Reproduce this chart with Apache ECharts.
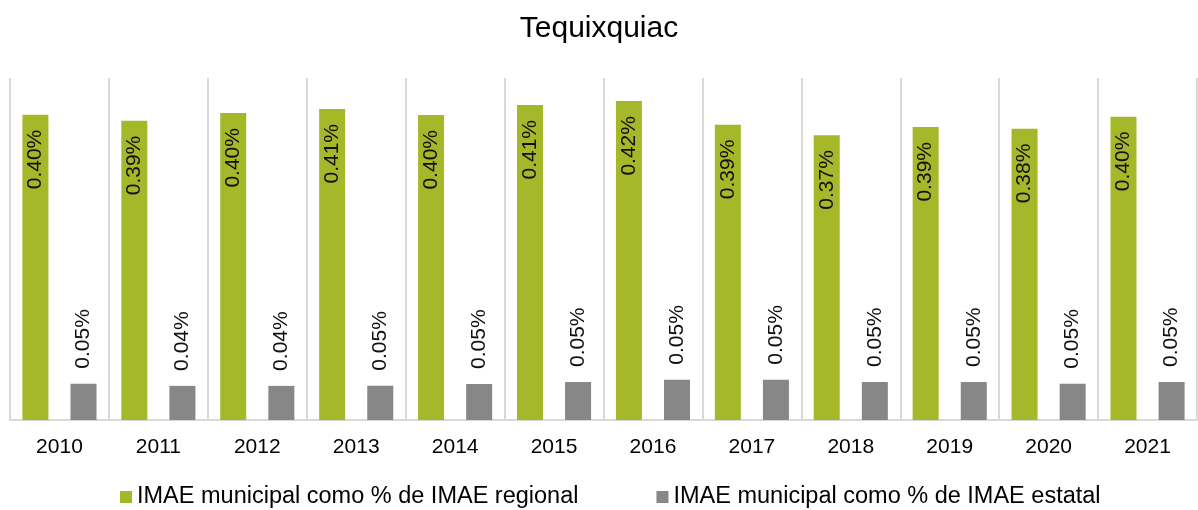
<!DOCTYPE html>
<html>
<head>
<meta charset="utf-8">
<title>Tequixquiac</title>
<script src="https://cdn.jsdelivr.net/npm/echarts@6/dist/echarts.min.js"></script>
<style>
  html, body { margin: 0; padding: 0; background: #fff; }
  #chart { width: 1198px; height: 510px; }
</style>
</head>
<body>
<div id="chart"></div>
<script>
// años (eje x)
const years = ['2010', '2011', '2012', '2013', '2014', '2015', '2016', '2017', '2018', '2019', '2020', '2021'];
// IMAE municipal como % de IMAE regional
const regional = [0.4017, 0.3938, 0.4039, 0.4092, 0.4013, 0.4145, 0.4197, 0.3886, 0.3748, 0.3855, 0.3833, 0.3991];
// IMAE municipal como % de IMAE estatal
const estatal = [0.0478, 0.0449, 0.0449, 0.0451, 0.0474, 0.0500, 0.0530, 0.0530, 0.0500, 0.0500, 0.0478, 0.0500];

const seriesNames = ['IMAE municipal como % de IMAE regional', 'IMAE municipal como % de IMAE estatal'];

const chart = echarts.init(document.getElementById('chart'));

// etiqueta con dos decimales
const fmt = p => p.value.toFixed(2) + '%';

const option = {
  animation: false,
  textStyle: { fontFamily: 'Liberation Sans, Arial, sans-serif' },
  title: {
    text: 'Tequixquiac',
    left: 'center',
    top: 9,
    textStyle: { fontSize: 30, fontWeight: 'normal', color: '#000' }
  },
  grid: {
    left: 10,
    right: 1,
    top: 78,
    bottom: 90
  },
  legend: {
    left: 115,
    top: 480,
    itemWidth: 12,
    itemHeight: 12,
    itemGap: 78,
    icon: 'rect',
    textStyle: { fontSize: 23.5, color: '#000' },
    data: seriesNames
  },
  xAxis: {
    type: 'category',
    data: years,
    axisLine: { lineStyle: { color: '#d9d9d9', width: 2 } },
    axisTick: { show: false },
    splitLine: { show: true, interval: 0, lineStyle: { color: '#d9d9d9', width: 2 } },
    axisLabel: { fontSize: 21, color: '#000', margin: 17 }
  },
  yAxis: {
    type: 'value',
    min: 0,
    max: 0.45,
    show: false
  },
  series: [
    {
      name: seriesNames[0],
      type: 'bar',
      data: regional,
      barWidth: 26,
      barGap: '85%',
      itemStyle: { color: '#a5b829' },
      label: {
        show: true,
        position: 'insideTop',
        distance: 15,
        rotate: 90,
        align: 'right',
        verticalAlign: 'middle',
        fontSize: 21,
        color: '#111',
        formatter: fmt
      }
    },
    {
      name: seriesNames[1],
      type: 'bar',
      data: estatal,
      barWidth: 26,
      itemStyle: { color: '#878787' },
      label: {
        show: true,
        position: 'top',
        distance: 15,
        rotate: 90,
        align: 'left',
        verticalAlign: 'middle',
        fontSize: 21,
        color: '#111',
        formatter: fmt
      }
    }
  ]
};

chart.setOption(option);
</script>
</body>
</html>
